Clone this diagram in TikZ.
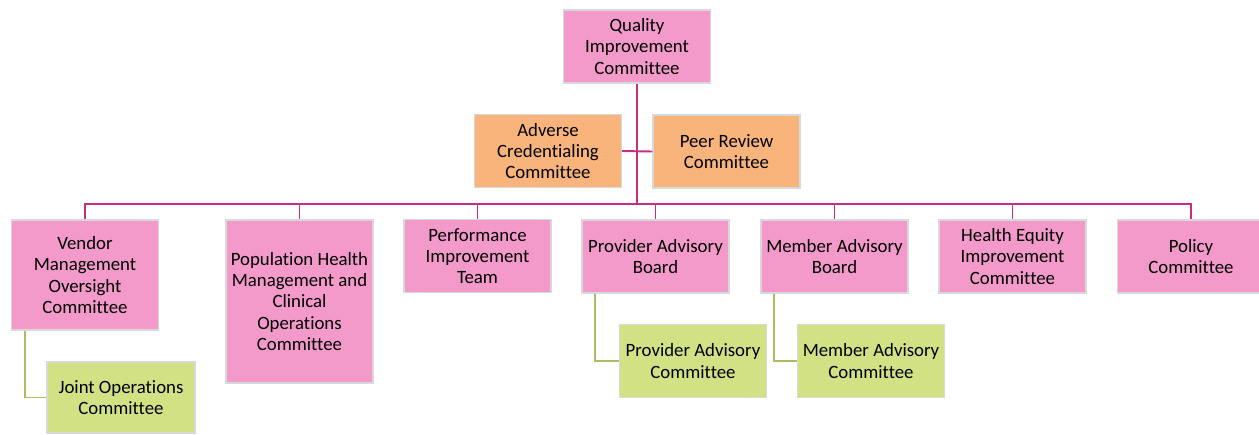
\documentclass[tikz,border=0pt]{standalone}
\usepackage{fontspec}
\setmainfont[Ligatures=NoCommon]{Carlito}
\definecolor{boxpink}{RGB}{243,154,202}
\definecolor{boxorange}{RGB}{248,180,122}
\definecolor{boxgreen}{RGB}{209,225,132}
\definecolor{linepink}{RGB}{196,46,128}
\definecolor{linegreen}{RGB}{170,188,100}
\tikzset{
	unit/.style={draw=gray!30, line width=0.7pt, align=center, inner sep=0pt,
		minimum width=2.94cm, minimum height=1.46cm,
		font=\fontsize{10.7}{12}\selectfont},
	pinkunit/.style={unit, fill=boxpink},
	orangeunit/.style={unit, fill=boxorange},
	greenunit/.style={unit, fill=boxgreen},
	pinkline/.style={draw=linepink, line width=1.1pt},
	greenline/.style={draw=linegreen, line width=1.1pt}
}
\begin{document}
\begin{tikzpicture}[x=0.02cm, y=-0.02cm]
	\useasboundingbox (0,0) rectangle (1259,434);
	% Spitze
	\node[pinkunit] (qic) at (637,46.5) {Quality\\Improvement\\Committee};
	\node[orangeunit] (adverse) at (548,151) {Adverse\\Credentialing\\Committee};
	\node[orangeunit] (peer) at (726.5,151.5) {Peer Review\\Committee};
	% Ausschuesse
	\node[pinkunit, minimum height=2.2cm] (vendor) at (85,275)
		{Vendor\\Management\\Oversight\\Committee};
	\node[pinkunit, minimum height=3.26cm] (pophealth) at (299.5,301.5)
		{Population Health\\Management and\\Clinical\\Operations\\Committee};
	\node[pinkunit] (perf) at (477.5,256) {Performance\\Improvement\\Team};
	\node[pinkunit] (provboard) at (655.5,256.5) {Provider Advisory\\Board};
	\node[pinkunit] (membboard) at (834.5,256.5) {Member Advisory\\Board};
	\node[pinkunit] (equity) at (1012.5,256.5) {Health Equity\\Improvement\\Committee};
	\node[pinkunit] (policy) at (1191,256.5) {Policy\\Committee};
	% Unterausschuesse
	\node[greenunit, minimum width=2.96cm, minimum height=1.42cm] (joint) at (121,397.5)
		{Joint Operations\\Committee};
	\node[greenunit] (provcomm) at (693,361) {Provider Advisory\\Committee};
	\node[greenunit] (membcomm) at (871,361) {Member Advisory\\Committee};
	% Linien
	\coordinate (bus) at (637,204);
	\draw[pinkline] (qic.south) -- (bus);
	\draw[pinkline] (adverse.east) -- (peer.west);
	\foreach \unit in {vendor,pophealth,perf,provboard,membboard,equity,policy}
		\draw[pinkline] (bus) -| (\unit.north);
	\foreach \board/\comm in {vendor/joint,provboard/provcomm,membboard/membcomm}
		\draw[greenline] ([xshift=0.28cm]\board.south west) |- (\comm.west);
\end{tikzpicture}
\end{document}
